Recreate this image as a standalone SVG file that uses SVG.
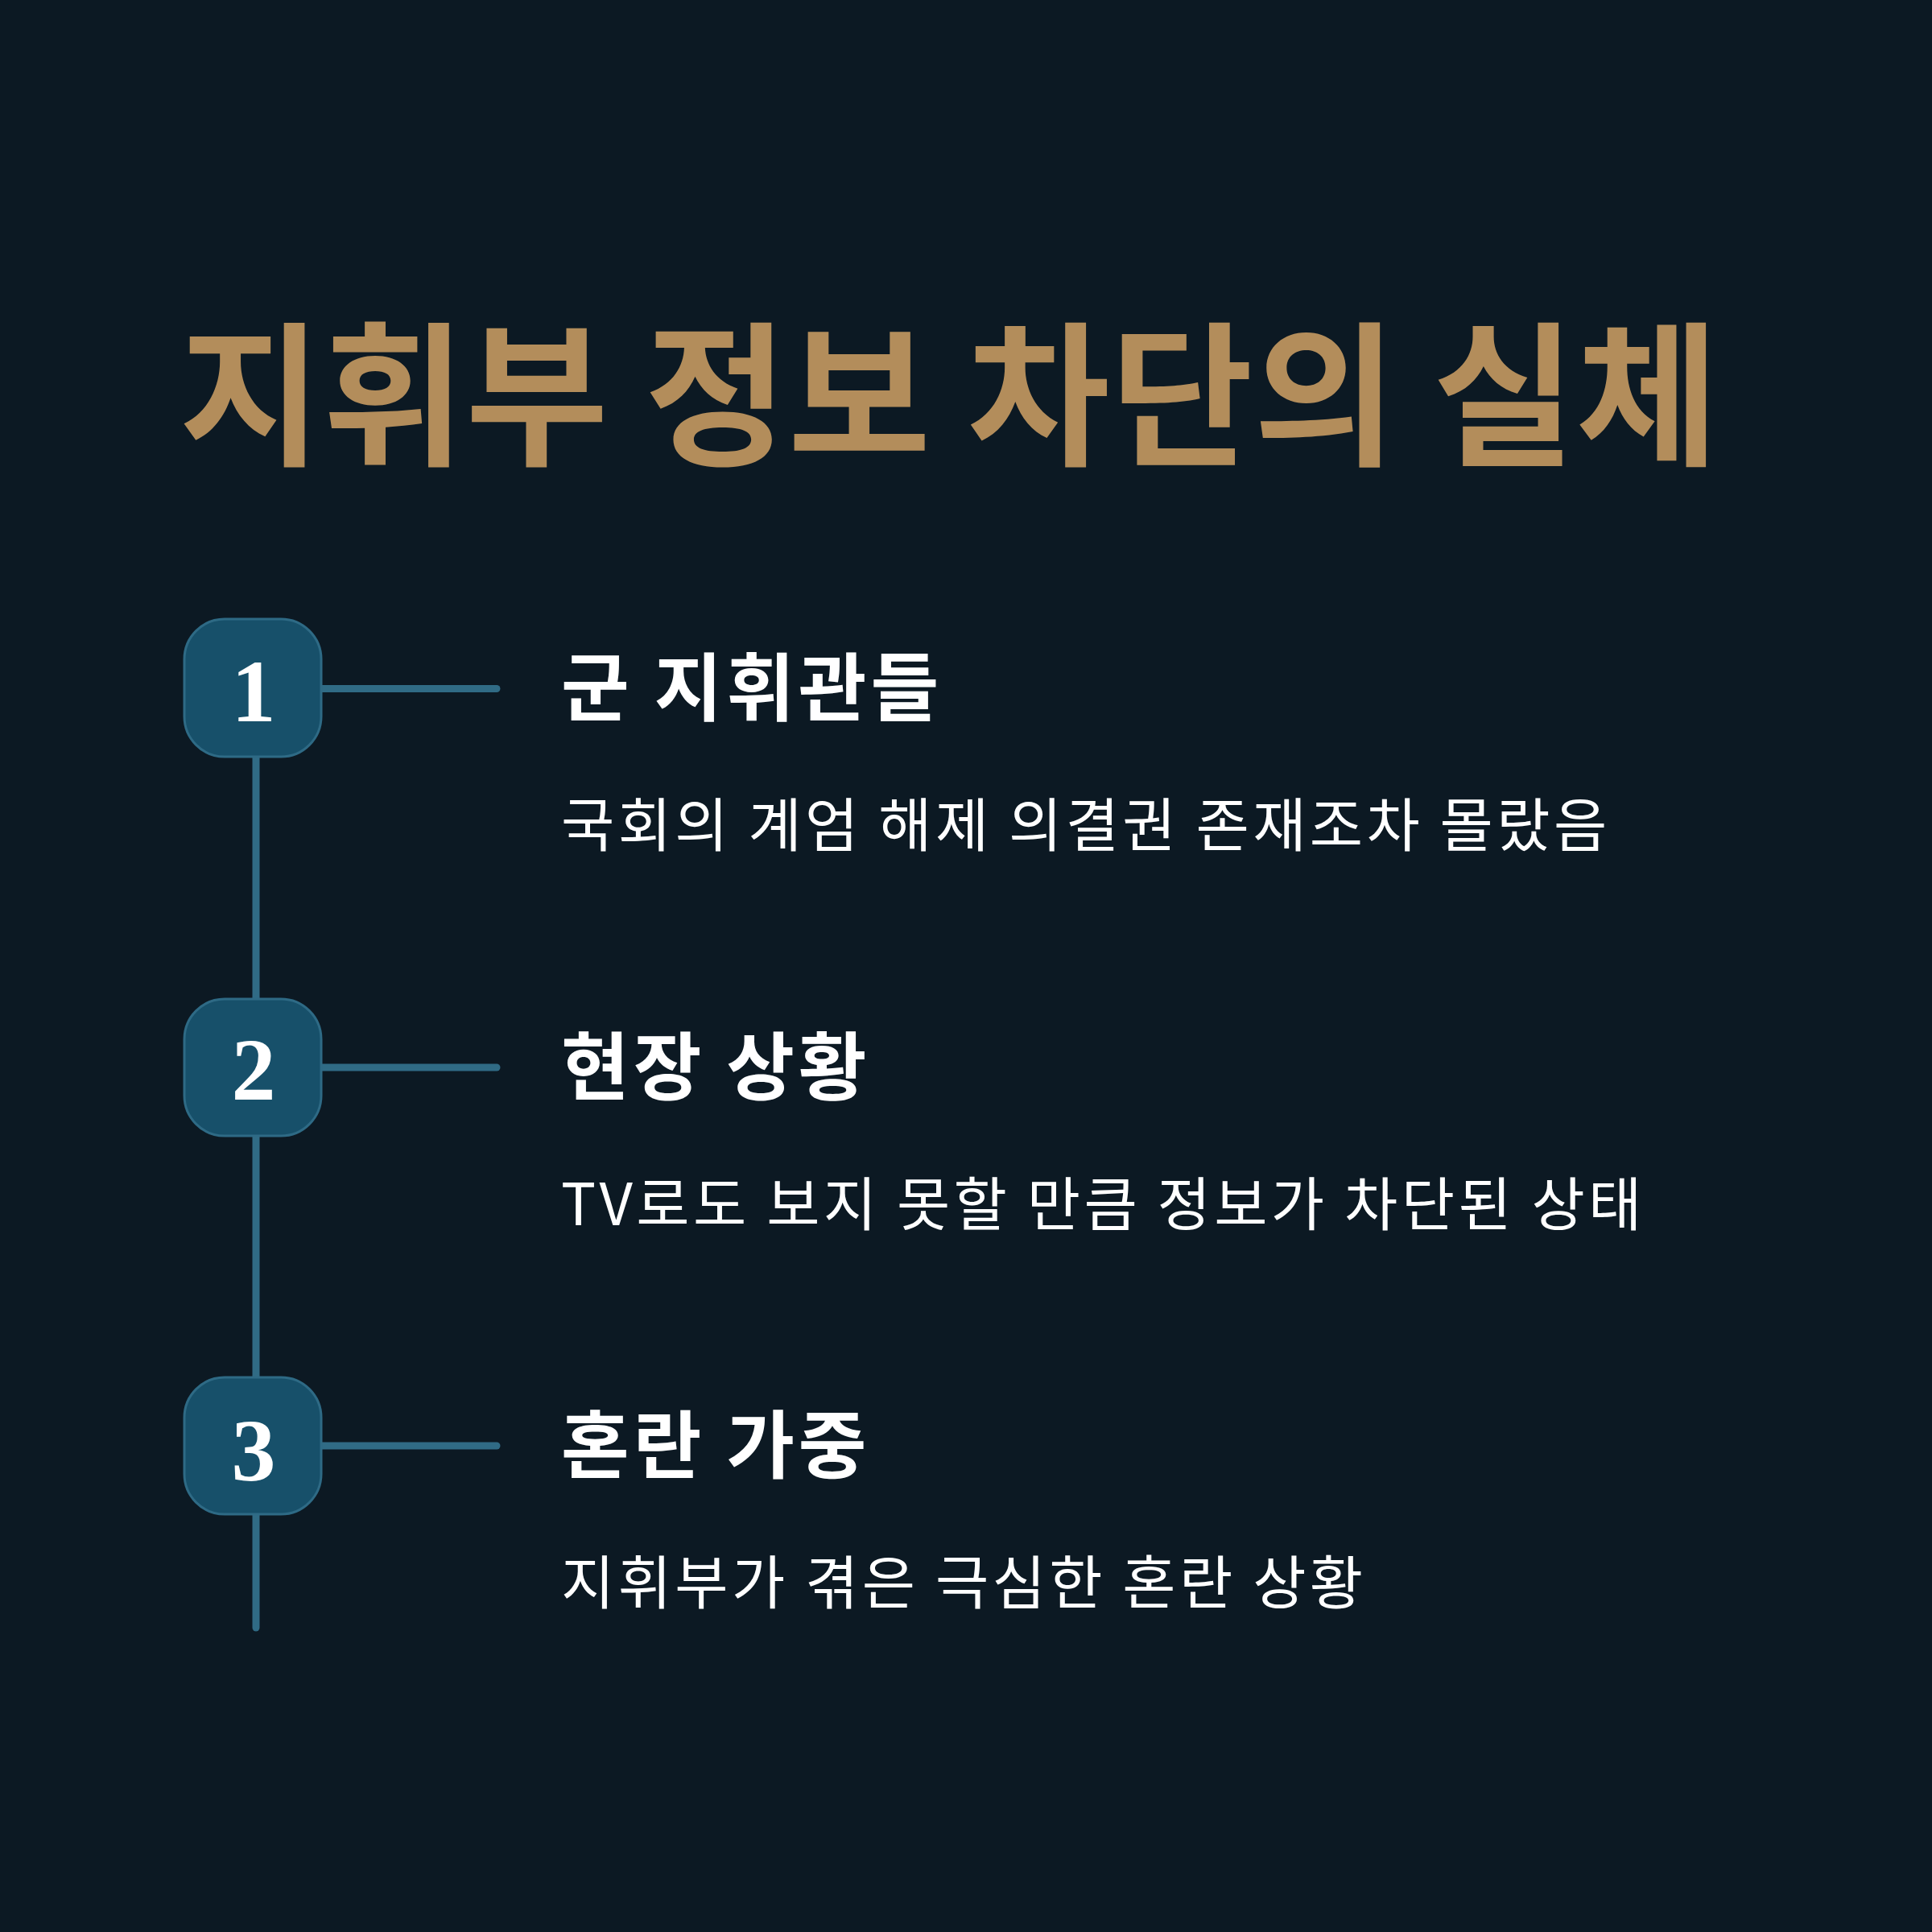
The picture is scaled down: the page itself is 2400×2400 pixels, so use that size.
<svg xmlns="http://www.w3.org/2000/svg" width="2400" height="2400" viewBox="0 0 2400 2400">
<style>
.title{font-family:"Noto Sans CJK KR","Noto Sans",sans-serif;font-weight:700;font-size:193px;letter-spacing:0.5px;fill:#B38D5B}
.head{font-family:"Noto Sans CJK KR","Noto Sans",sans-serif;font-weight:700;font-size:92px;letter-spacing:5px;fill:#FFFFFF}
.sub{font-family:"Noto Sans CJK KR","Noto Sans",sans-serif;font-weight:400;font-size:72px;letter-spacing:4.4px;fill:#FFFFFF}
.box{fill:#17506A;stroke:#2E6A85;stroke-width:3}
.num{font-family:"Liberation Serif","Times New Roman",serif;font-weight:700;font-size:110px;fill:#FFFFFF;text-anchor:middle}
.ln{stroke:#306B85;stroke-width:9;stroke-linecap:round;fill:none}
</style>
<rect width="2400" height="2400" fill="#0C1923"/>
<text id="title" class="title" x="1179" y="563" text-anchor="middle">지휘부 정보 차단의 실체</text>
<g id="connectors">
<line class="ln" x1="318" y1="855" x2="318" y2="2022"/>
<line class="ln" x1="399" y1="855.5" x2="617" y2="855.5"/>
<line class="ln" x1="399" y1="1326" x2="617" y2="1326"/>
<line class="ln" x1="399" y1="1796" x2="617" y2="1796"/>
</g>
<g id="node1">
<rect class="box" x="229" y="769" width="170" height="171" rx="50"/>
<text class="num" x="315" y="896">1</text>
<text class="head" x="697" y="888">군 지휘관들</text>
<text class="sub" x="697" y="1051">국회의 계엄 해제 의결권 존재조차 몰랐음</text>
</g>
<g id="node2">
<rect class="box" x="229" y="1241" width="170" height="170" rx="50"/>
<text class="num" x="315" y="1366">2</text>
<text class="head" x="697" y="1359">현장 상황</text>
<text class="sub" x="697" y="1522">TV로도 보지 못할 만큼 정보가 차단된 상태</text>
</g>
<g id="node3">
<rect class="box" x="229" y="1711" width="170" height="170" rx="50"/>
<text class="num" x="315" y="1839">3</text>
<text class="head" x="697" y="1829">혼란 가중</text>
<text class="sub" x="697" y="1992">지휘부가 겪은 극심한 혼란 상황</text>
</g>
</svg>
